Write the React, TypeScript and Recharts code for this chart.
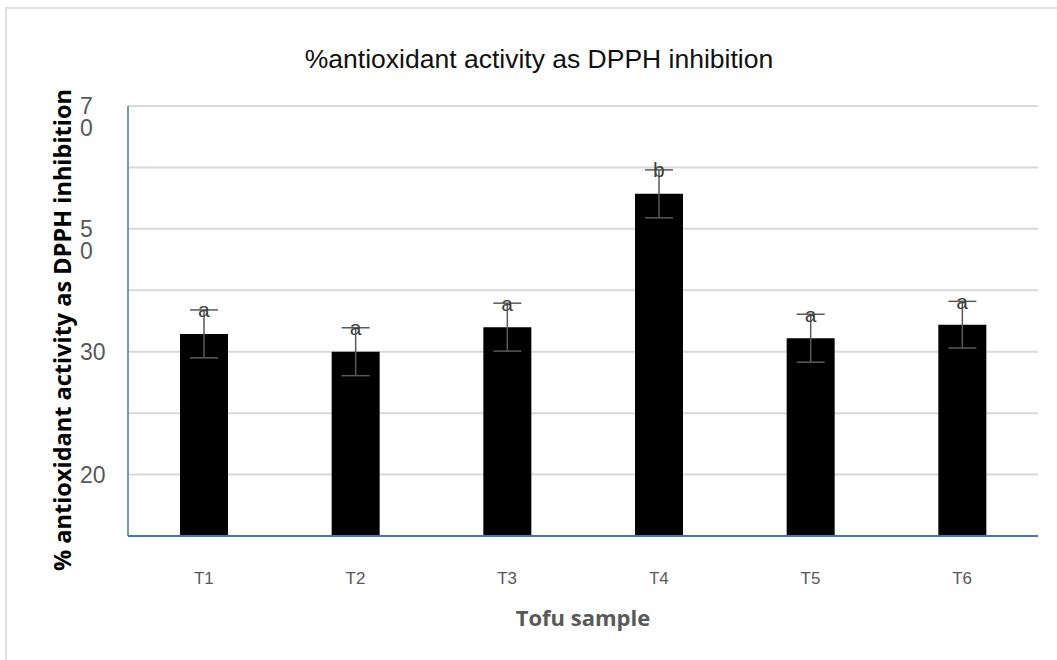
import React from 'react';
import { ComposedChart, Bar, Scatter, ErrorBar, XAxis, YAxis, CartesianGrid, Label } from 'recharts';

const categories = ['T1', 'T2', 'T3', 'T4', 'T5', 'T6'];
const activity = [32.9, 30.0, 34.0, 55.7, 32.2, 34.4];
const errors = [3.9, 3.9, 3.9, 3.9, 3.9, 3.8];
const letters = ['a', 'a', 'a', 'b', 'a', 'a'];

const yTicks = [0, 10, 20, 30, 40, 50, 60, 70];
// the axis labels as they appear in the source picture (some are missing or odd)
const yTickLabels: Record<number, string[]> = {
    70: ['7', '0'],
    50: ['5', '0'],
    30: ['30'],
    10: ['20'],
};

const chartData = categories.map((name, i) => ({
    name,
    activity: activity[i],
    err: errors[i],
    top: activity[i] + errors[i],
    letter: letters[i],
}));

const YTick = (props: any) => {
    const { x, y, payload } = props;
    const lines = yTickLabels[payload.value];
    if (!lines) return null;
    return (
        <text x={x - 40} y={y} fill="#595959" fontSize={23} fontFamily="'Liberation Sans', Arial, sans-serif" textAnchor="start">
            {lines.map((l, i) => (
                <tspan key={i} x={x - 40} dy={i === 0 ? '0.36em' : 22}>{l}</tspan>
            ))}
        </text>
    );
};

const LetterShape = (props: any) => {
    const { cx, cy, payload } = props;
    return (
        <text x={cx} y={cy} textAnchor="middle" dominantBaseline="central" fill="#404040" fontSize={21} fontFamily="'Liberation Sans', Arial, sans-serif">
            {payload.letter}
        </text>
    );
};

const App: React.FC = () => {
    return (
        <div style={{ position: 'relative', width: 1057, height: 660, background: '#fff', overflow: 'hidden' }}>
            <style>{'body{margin:0}'}</style>
            <div style={{ position: 'absolute', left: 5, top: 7, width: 1100, height: 700, borderTop: '2px solid #e0e0e0', borderLeft: '2px solid #e0e0e0' }} />
            <div style={{ position: 'absolute', top: 44, left: 0, width: 1078, textAlign: 'center', fontFamily: "'Liberation Sans', Arial, sans-serif", fontSize: 26.5, color: '#111' }}>
                %antioxidant activity as DPPH inhibition
            </div>
            <div style={{ position: 'absolute', left: 0, top: 0 }}>
                <ComposedChart
                    width={1057}
                    height={660}
                    data={chartData}
                    margin={{ top: 106, right: 19, bottom: 94, left: 0 }}
                >
                    <CartesianGrid vertical={false} stroke="#d9d9d9" strokeWidth={2} />
                    <XAxis
                        dataKey="name"
                        height={30}
                        axisLine={{ stroke: '#4472c4', strokeWidth: 2 }}
                        tickLine={false}
                        tickMargin={30}
                        tick={{ fill: '#595959', fontSize: 17, fontFamily: "'Liberation Sans', Arial, sans-serif" }}
                    >
                        <Label
                            content={(p: any) => {
                                const vb = p.viewBox;
                                return (
                                    <text x={vb.x + vb.width / 2} y={617} textAnchor="middle" dominantBaseline="central" fill="#595959" fontSize={22} fontWeight="bold" fontFamily="'Open Sans', sans-serif">
                                        Tofu sample
                                    </text>
                                );
                            }}
                        />
                    </XAxis>
                    <YAxis
                        width={128}
                        domain={[0, 70]}
                        ticks={yTicks}
                        interval={0}
                        axisLine={{ stroke: '#4472c4', strokeWidth: 1.5 }}
                        tickLine={false}
                        tick={<YTick />}
                    >
                        <Label
                            content={(p: any) => {
                                const vb = p.viewBox;
                                const cy = vb.y + vb.height / 2 + 9;
                                return (
                                    <text x={62} y={cy} transform={`rotate(-90, 62, ${cy})`} textAnchor="middle" dominantBaseline="central" fill="#000" fontSize={23.5} fontWeight="bold" fontFamily="'Open Sans', sans-serif">
                                        % antioxidant activity as DPPH inhibition
                                    </text>
                                );
                            }}
                        />
                    </YAxis>
                    <Bar dataKey="activity" fill="#000" barSize={48} isAnimationActive={false}>
                        <ErrorBar dataKey="err" width={14} stroke="#595959" strokeWidth={1.5} />
                    </Bar>
                    <Scatter dataKey="top" shape={<LetterShape />} isAnimationActive={false} />
                </ComposedChart>
            </div>
        </div>
    );
};

export default App;
